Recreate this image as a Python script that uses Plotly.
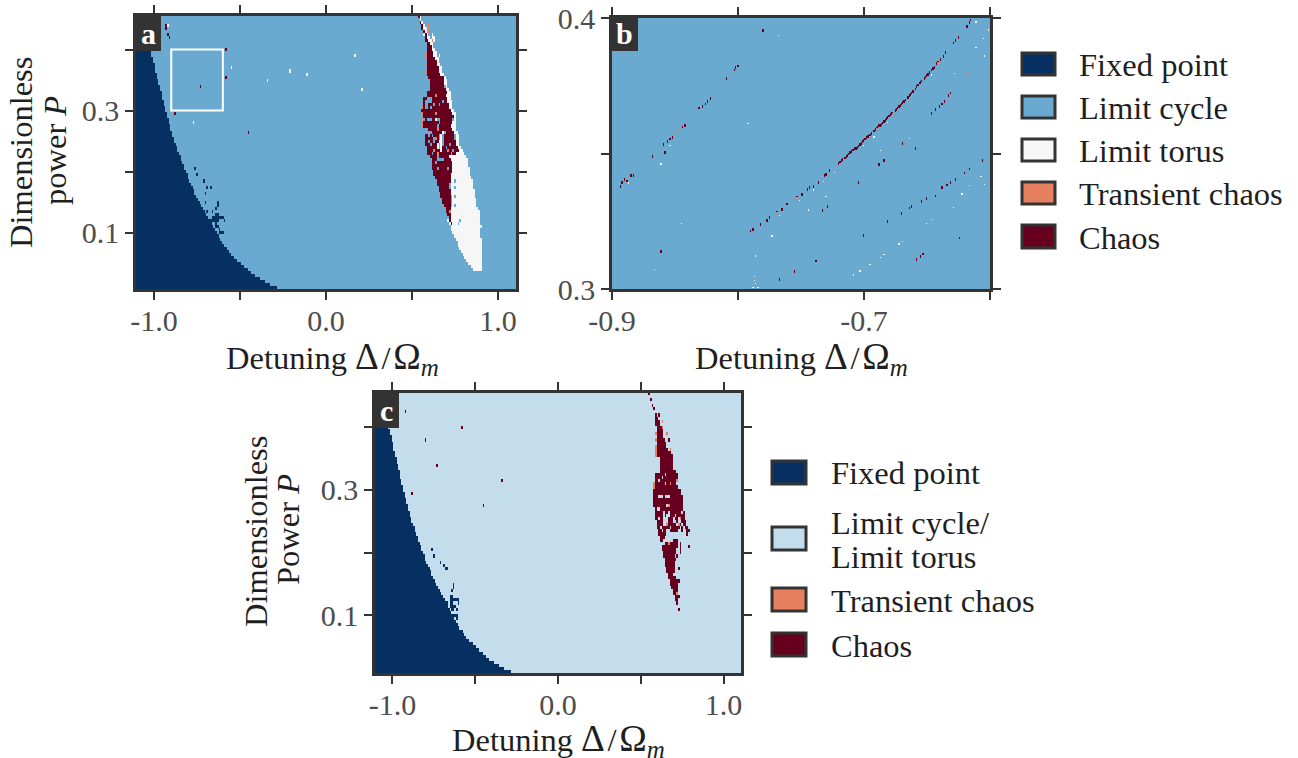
import numpy as np
import plotly.graph_objects as go

W, H = 1298, 758
SERIF = "Liberation Serif"
INK = "#1f1f1f"
TICKTXT = "#4d4d4d"
SPINE = "#333333"

FIXED, CYCLE, TORUS, TRANS, CHAOS = 0, 1, 2, 3, 4
COL_FIXED = "#053061"
COL_CYCLE = "#6BAAD0"
COL_TORUS = "#F6F6F6"
COL_TRANS = "#E6805F"
COL_CHAOS = "#67001F"
COL_MERGED = "#C3DDEC"

# number of fixed-point cells per row, bottom row first (panels a and c)
fixed_edge = [82, 78, 75, 72, 69, 67, 65, 63, 61, 59, 57, 55, 54, 53, 51, 50, 49, 48, 47, 46,
              45, 44, 43, 42, 41, 40, 39, 38, 37, 36, 35, 34, 34, 33, 32, 31, 30, 30, 29, 28,
              28, 27, 26, 26, 25, 24, 24, 23, 22, 22, 21, 21, 20, 20, 19, 19, 18, 18, 17, 17,
              16, 16, 15, 15, 15, 14, 14, 13, 13, 12, 12, 11, 11, 11, 10, 10, 9, 9, 8, 8,
              7, 7, 6, 6, 5, 5, 4, 4, 3, 3]

# chaotic lobe, panel a: top row first, first character is column 160
lobe_a = [
    "....CT", ".....T...O", ".....CT", "......CT..O", "......CTT", ".......CT.O",
    ".......TCT..T", "........CTT.TT", "........CCTTOT", ".........CCTT", ".........CCCT",
    ".........CCCTT", "........OCCCCTT", "........OCCCCTT.T", "........OCCCCCTTO",
    ".........CCCCCCT", "........OCCCCCCTT", ".........CCCCCCCTT", "........OCCCCCCCTT",
    ".........CCCCCCCCTT", "..........CCCCCCCCCT", "...........CCCCCCCCTT", "...........CCCCCCCCTT",
    "...........CCCCCCCC.T", "...........CCCCCCCCCTT", ".........CCCCCCCCCCCCTT",
    ".........CCCCCOCCCCCTTT", ".......CC...CCCCCCCCCTT", ".......C....CCCCCC.CCTTT",
    ".......C..CCC.CC.CCCCCTT", "......OC..C.CCCCCCCCCCTT", "......CCCCCCCCCCCCCCCCCTT",
    "......OCCCCCCCOCCCCCCCCCTT", ".......CCCCCCCCCCCCCCCCCCT", "......O.C...CCT..CCCCCCC.T",
    "......OCCCCCCCCC.CCCCCCCTT", "......OCCCCCCCC.CCCCCCCTTT", "..........CCCCCOCCCCCCCCTT",
    "............CCCCCCT.CCCCCTT", "........CC.C.CCC.T.CCCCCC.TT", "........CCCCC.OC.T.CCCCCC.TT",
    "........CC.CC.CCTT.CCCCCCCTT", "........CCC.CCCT.T.CCC.CCCTT", ".........CCCCCCT.TCC.CCCCCCTT",
    ".........CCCCOCCCTCCCOCC.CCCTT", ".........CCC.CCOCCCCCCC.CCTTTTT", "...........CCCC.CCCCCCTTTTTTTTTT",
    "............CCC....CCCCTTTTTTTTTT", "............CC.CCCCCCCCCTTTTTTTTT", "............CCCCCCCCCCCCTTTTTTTTT",
    "............CCC.CCCCC.CCTTTTTTTTTT", ".............CCCCCCCCCCCTTTTTTTTTT", ".............CCCCCCCCCCTTTTTTTTTTT",
    "..............CCCCCCCCCTTTTTTTTTTTT", "...............CCCCCCCCTT.TTTTTTTTTT", "...............CCCCCCC.TTTTTTTTTTTTT",
    "................CCCCCC.TT.TTTTTTTTTT", "................CCCCCCCTTTTTTTTTTTTTT", ".................CCCCCCTTTTTTTTTTTTTT",
    ".................CCCCCC.T.TTTTTTTTTTT", "..................CCCCC.TTTTTTTTTTTTTT", "..................CCCCC.TTTTTTTTTTTTTT",
    "...................CCCC.T.TTTTTTTTTTTT", "....................CCCTTTTTTTTTTTTTTTT", "....................CCOTTTTTTTTTTTTTTTTT",
    ".....................CCTTTTTTTTTTTTTTTTT", "......................CTTTTTTTTTTTTTTTTT", ".....................TCTTTTT.TTTTTTTTTTT",
    "......................TCTTT.TTTTTTTTTTTT", ".......................TTTTTTTTTTTTTTTTTT", ".......................TTTTTTTTTTTTTTTTT",
    "........................TTTTTTTTTTTTTTTT", ".........................TTTTTTTTTTTTTTT", "..........................TTTTTTTTTTTTTTT",
    "...........................TTTTTTTTTTTTTT", "...........................TTTTTTTTTTTTTT", "............................TTTTTTTTTTTTT",
    ".............................TTTTTTTTTTTT", "..............................TTTTTTTTTTT", "...............................TTTTTTTTTT",
    "................................TTTTTTTTT", ".................................TTTTTTTT", "...................................TTTTTT",
    "....................................TTTTT",
]

# chaotic lobe, panel c: top row first, first character is column 160
lobe_c = [
    ".....C", "", "......C", "", ".......C", "........C", "", ".........C.C", ".........CC",
    ".........CCC.O", ".........CCC", "..........CCCO", "..........CCCC", ".........OCCCC..O",
    "..........CCCC", ".........OCCCCC..C", "..........CCCCCC", ".........OCCCCCC",
    ".........OCCCCCCC.O", ".........OCCCCCCCCC", ".........OCCCCCCCCCC", "............CCCCCCCC",
    "............CCCCCCCC", "............CCCCCCCC", "............CCCCCCCC", "............CCCCCCCCCC",
    ".........CCCCCC.CCCCCCC", ".........CCCC.CCCCCCCCC", ".........CC.CCCCCCCCCCO", "........OCCCCCC.CCOCCC",
    "........OCCCCCCCCCCCCCC", "........CCCCCCCCCCCCCCCCC", "........CCCCCCCCCCCCCCCCC", "........CCC...C...CCCCCCCC",
    "........CCCCCCCCCCCCCCCCCC", "........CCCCCCCCCCCCCCCCCC", "........CCCCCCCC.OCCCCCCCC", ".........C..CCCCCCCCCCCCCC",
    ".........CCCCC.CC.CCCCCCC.C", ".........CCCCC.C..CCC.CCCCC", ".........CC.CC...CCC.CC.OCC", "..........CCCC...CCC..C..CCC",
    "..........CCCC..OCCCCC.OC.CC", "..........CC.CCCCC.CCCCC.C.CC", "...........CC.CC..CCCCC..C..CC", "...........CCCCC............C",
    "............CCC", "............CC......CCC", "...............CCOCCCCC.C", ".............CCCCCCCCCC.C....C",
    ".............CCCCCCCCC..C", "..............CCCCCCCC..C", "..............CCCCCCC.C", "...............CCCCCCC",
    "...............CCCCCC", "...............CCCCCC", "................CCCCC..C", "................CCCCC",
    ".................CCC", ".................CCCCC", "..................CCCCCC", "..................CCCCC",
    "...................CCCC", "....................CCC", "....................CCO", ".....................CCC",
    ".....................CC", "......................C", "", ".......................C",
]

# isolated cells, panel a
a_chaos_x = [-0.932, -0.932, -0.920, -0.909, -0.580, -0.580, -0.731, -0.878, -0.449, -0.700]
a_chaos_y = [0.440, 0.436, 0.427, 0.421, 0.402, 0.357, 0.342, 0.297, 0.267, 0.148]
a_torus_x = [-0.920, -0.548, -0.769, -0.337, -0.209, -0.109, 0.169, 0.209]
a_torus_y = [0.442, 0.372, 0.278, 0.352, 0.367, 0.362, 0.388, 0.337]
a_fixed_x = [-0.760, -0.750, -0.709, -0.688, -0.674, -0.669, -0.700, -0.630, -0.630, -0.640, -0.657, -0.688,
             -0.645, -0.635, -0.630, -0.660, -0.650, -0.640, -0.630, -0.620, -0.610, -0.600,
             -0.665, -0.655, -0.645, -0.635, -0.590, -0.670, -0.640, -0.640, -0.635, -0.625,
             -0.620, -0.610, -0.600]
a_fixed_y = [0.203, 0.197, 0.183, 0.177, 0.173, 0.173, 0.163, 0.148, 0.143, 0.138, 0.133, 0.133,
             0.128, 0.128, 0.128, 0.123, 0.123, 0.123, 0.123, 0.123, 0.123, 0.123,
             0.118, 0.118, 0.118, 0.118, 0.118, 0.118, 0.113, 0.108, 0.108, 0.103,
             0.098, 0.098, 0.098]

# isolated cells, panel c
c_chaos_x = [-0.920, -0.582, -0.800, -0.730, -0.340, -0.879, -0.450]
c_chaos_y = [0.425, 0.4005, 0.380, 0.341, 0.316, 0.296, 0.277]
c_fixed_x = [-0.763, -0.750, -0.710, -0.690, -0.680, -0.670, -0.630, -0.630, -0.640,
             -0.650, -0.640, -0.650, -0.640, -0.630, -0.620, -0.610, -0.600,
             -0.650, -0.640, -0.600, -0.668, -0.650, -0.640, -0.630, -0.620,
             -0.645, -0.630, -0.610, -0.635, -0.625, -0.615, -0.610, -0.610]
c_fixed_y = [0.203, 0.197, 0.183, 0.178, 0.173, 0.173, 0.149, 0.144, 0.138,
             0.128, 0.128, 0.123, 0.123, 0.123, 0.123, 0.123, 0.123,
             0.118, 0.118, 0.118, 0.118, 0.113, 0.113, 0.113, 0.113,
             0.108, 0.108, 0.108, 0.100, 0.100, 0.100, 0.100, 0.095]

# panel b: chaotic cells along the resonance lines
b_main_x = [-0.790, -0.788, -0.782, -0.777, -0.775, -0.769, -0.765, -0.761, -0.753, -0.749, -0.745, -0.743,
            -0.740, -0.736, -0.731, -0.730, -0.727, -0.629, -0.627, -0.625, -0.618, -0.616, -0.615,
            -0.639, -0.637, -0.635]
b_main_y = [0.3208, 0.3216, 0.3235, 0.3250, 0.3260, 0.3282, 0.3290, 0.3308, 0.3333, 0.3346, 0.3363, 0.3370,
            0.3376, 0.3392, 0.3417, 0.3419, 0.3435, 0.3905, 0.3914, 0.3924, 0.3967, 0.3979, 0.3991,
            0.3845, 0.3856, 0.3868]
# the middle of the main line is a nearly unbroken run of cells
b_run_x = [-0.720, -0.719, -0.718, -0.717, -0.715, -0.714, -0.713, -0.712, -0.711, -0.710, -0.709, -0.708,
           -0.707, -0.706, -0.705, -0.704, -0.703, -0.702, -0.701, -0.700, -0.699, -0.698, -0.697, -0.696, -0.695,
           -0.694, -0.692, -0.691, -0.690, -0.689, -0.688, -0.687, -0.686, -0.685, -0.684, -0.683, -0.682,
           -0.681, -0.680, -0.679, -0.678, -0.677, -0.675, -0.674, -0.673, -0.672, -0.671, -0.670, -0.669,
           -0.668, -0.667, -0.665, -0.664, -0.663, -0.662, -0.661, -0.659, -0.658, -0.657, -0.656,
           -0.655, -0.654, -0.652, -0.651, -0.650, -0.649, -0.648, -0.646, -0.645, -0.644, -0.642, -0.641]
b_run_y = [0.3459, 0.3464, 0.3469, 0.3474, 0.3481, 0.3486, 0.3491, 0.3495, 0.3498, 0.3503, 0.3508, 0.3511,
           0.3513, 0.3515, 0.3520, 0.3526, 0.3530, 0.3533, 0.3542, 0.3546, 0.3551, 0.3555, 0.3559, 0.3562, 0.3565,
           0.3570, 0.3580, 0.3585, 0.3589, 0.3594, 0.3598, 0.3602, 0.3606, 0.3611, 0.3616, 0.3621, 0.3626,
           0.3631, 0.3635, 0.3638, 0.3643, 0.3647, 0.3656, 0.3661, 0.3665, 0.3670, 0.3675, 0.3679, 0.3683,
           0.3689, 0.3694, 0.3705, 0.3710, 0.3716, 0.3721, 0.3726, 0.3737, 0.3743, 0.3749, 0.3754,
           0.3759, 0.3764, 0.3776, 0.3780, 0.3784, 0.3788, 0.3796, 0.3807, 0.3811, 0.3815, 0.3829, 0.3835]
b_upper_x = [-0.893, -0.892, -0.890, -0.888, -0.885, -0.883, -0.868, -0.859, -0.858, -0.856, -0.854, -0.852,
             -0.844, -0.842, -0.831, -0.828, -0.826, -0.824, -0.822, -0.809, -0.803, -0.802, -0.800, -0.780]
b_upper_y = [0.3376, 0.3391, 0.3401, 0.3395, 0.3417, 0.3417, 0.3485, 0.3528, 0.3502, 0.3538, 0.3552, 0.3555,
             0.3595, 0.3601, 0.3663, 0.3669, 0.3678, 0.3692, 0.3702, 0.3774, 0.3804, 0.3815, 0.3819, 0.3951]
b_right_x = [-0.646, -0.643, -0.640, -0.638, -0.636, -0.633, -0.631]
b_right_y = [0.3643, 0.3659, 0.3672, 0.3680, 0.3692, 0.3712, 0.3722]
b_lower_x = [-0.670, -0.664, -0.662, -0.654, -0.650, -0.643, -0.638, -0.634, -0.631, -0.627, -0.620, -0.616, -0.606]
b_lower_y = [0.3276, 0.3294, 0.3301, 0.3321, 0.3331, 0.3341, 0.3371, 0.3380, 0.3391, 0.3401, 0.3426, 0.3442, 0.3472]
b_loose_x = [-0.861, -0.738, -0.755, -0.767, -0.700, -0.681, -0.733, -0.729, -0.704, -0.688, -0.684, -0.669,
             -0.659, -0.658, -0.655, -0.653, -0.624]
b_loose_y = [0.3134, 0.3098, 0.3059, 0.3028, 0.3196, 0.3245, 0.3285, 0.3301, 0.3391, 0.3456, 0.3472, 0.3537,
             0.3517, 0.3103, 0.3114, 0.3125, 0.3185]
b_trans_x = [-0.896, -0.862, -0.847, -0.769, -0.753, -0.690, -0.656, -0.641, -0.617, -0.677]
b_trans_y = [0.3380, 0.3518, 0.3583, 0.3282, 0.3333, 0.3589, 0.3754, 0.3835, 0.3791, 0.3647]
b_torus_x = [-0.768, -0.792, -0.861, -0.854, -0.887, -0.845, -0.866, -0.773, -0.786, -0.744, -0.767, -0.751,
             -0.740, -0.732, -0.730, -0.723, -0.708, -0.703, -0.695, -0.687, -0.684, -0.672, -0.669, -0.650,
             -0.646, -0.629, -0.622, -0.616, -0.607, -0.604, -0.687, -0.664, -0.700, -0.692, -0.681, -0.646,
             -0.628, -0.611, -0.605, -0.611, -0.604, -0.601, -0.787, -0.787, -0.788, -0.786, -0.784]
b_torus_y = [0.3936, 0.3608, 0.3461, 0.3530, 0.3391, 0.3240, 0.3069, 0.3196, 0.3118, 0.3292, 0.3269, 0.3325,
             0.3366, 0.3396, 0.3341, 0.3432, 0.3048, 0.3063, 0.3089, 0.3114, 0.3124, 0.3166, 0.3176, 0.3240,
             0.3255, 0.3301, 0.3351, 0.3380, 0.3417, 0.3386, 0.3512, 0.3557, 0.3528, 0.3562, 0.3614, 0.3788,
             0.3797, 0.3985, 0.3926, 0.3889, 0.3859, 0.3954, 0.3044, 0.3028, 0.3007, 0.3020, 0.3005]

legend_a = ["Fixed point", "Limit cycle", "Limit torus", "Transient chaos", "Chaos"]
legend_c = ["Fixed point", ["Limit cycle/", "Limit torus"], "Transient chaos", "Chaos"]
colors_a = [COL_FIXED, COL_CYCLE, COL_TORUS, COL_TRANS, COL_CHAOS]
colors_c = [COL_FIXED, COL_MERGED, COL_TRANS, COL_CHAOS]

# grids of the parameter scan
gx = [round(-1.1 + 0.01 * i, 3) for i in range(221)]
gy = [round(0.01 + 0.005 * j, 4) for j in range(90)]
bx = [round(-0.9 + 0.001 * i, 4) for i in range(301)]
by = [round(0.3 + 0.0005 * j, 5) for j in range(201)]


def base_grid():
    z = np.full((90, 221), CYCLE)
    for row, n in enumerate(fixed_edge):
        z[row, :n] = FIXED
    return z


def put(z, xs, ys, state, x0, y0, dx, dy, thick=1):
    for xv, yv in zip(xs, ys):
        col = int(round((xv - x0) / dx))
        row = int(round((yv - y0) / dy))
        for t in range(thick):
            if 0 <= row + t < z.shape[0] and 0 <= col < z.shape[1]:
                z[row + t, col] = state


def put_lobe(z, rows):
    states = {"C": CHAOS, "O": TRANS, "T": TORUS}
    for r, text in enumerate(rows):
        for k, ch in enumerate(text):
            if ch in states:
                z[89 - r, 160 + k] = states[ch]


za = base_grid()
put(za, a_fixed_x, a_fixed_y, FIXED, -1.1, 0.01, 0.01, 0.005)
put(za, a_torus_x, a_torus_y, TORUS, -1.1, 0.01, 0.01, 0.005)
put(za, a_chaos_x, a_chaos_y, CHAOS, -1.1, 0.01, 0.01, 0.005)
put_lobe(za, lobe_a)

zc = base_grid()
put(zc, c_fixed_x, c_fixed_y, FIXED, -1.1, 0.01, 0.01, 0.005)
put(zc, c_chaos_x, c_chaos_y, CHAOS, -1.1, 0.01, 0.01, 0.005)
put_lobe(zc, lobe_c)

zb = np.full((201, 301), CYCLE)
put(zb, b_torus_x, b_torus_y, TORUS, -0.9, 0.3, 0.001, 0.0005)
for xs, ys in [(b_main_x, b_main_y), (b_run_x, b_run_y), (b_upper_x, b_upper_y), (b_right_x, b_right_y),
               (b_lower_x, b_lower_y), (b_loose_x, b_loose_y)]:
    put(zb, xs, ys, CHAOS, -0.9, 0.3, 0.001, 0.0005, thick=2)
put(zb, b_trans_x, b_trans_y, TRANS, -0.9, 0.3, 0.001, 0.0005)


def scale(cols):
    out = []
    for i, c in enumerate(cols):
        out += [[i / 5, c], [(i + 1) / 5, c]]
    return out


fig = go.Figure()
cs_ab = scale([COL_FIXED, COL_CYCLE, COL_TORUS, COL_TRANS, COL_CHAOS])
cs_c = scale([COL_FIXED, COL_MERGED, COL_MERGED, COL_TRANS, COL_CHAOS])
fig.add_trace(go.Heatmap(x=gx, y=gy, z=za, zmin=-0.5, zmax=4.5, colorscale=cs_ab, showscale=False,
                         xaxis="x", yaxis="y", name="a"))
fig.add_trace(go.Heatmap(x=bx, y=by, z=zb, zmin=-0.5, zmax=4.5, colorscale=cs_ab, showscale=False,
                         xaxis="x2", yaxis="y2", name="b"))
fig.add_trace(go.Heatmap(x=gx, y=gy, z=zc, zmin=-0.5, zmax=4.5, colorscale=cs_c, showscale=False,
                         xaxis="x3", yaxis="y3", name="c"))


def dom(a, b, total, flip=False):
    if flip:
        return [1 - b / total, 1 - a / total]
    return [a / total, b / total]


def axis(dom_range, rng, vals, minor_vals, anchor, standoff=0):
    return dict(domain=dom_range, range=rng, tickmode="array", tickvals=vals,
                ticktext=[format(v, ".1f") for v in vals],
                ticks="outside", ticklen=8, tickwidth=2, tickcolor=SPINE, ticklabelstandoff=standoff,
                minor=dict(tickmode="array", tickvals=minor_vals, ticks="outside", ticklen=8, tickwidth=2,
                           tickcolor=SPINE, showgrid=False),
                showline=True, linecolor=SPINE, linewidth=2.5, mirror="allticks", automargin=False,
                showgrid=False, zeroline=False, anchor=anchor,
                tickfont=dict(family=SERIF, size=30, color=TICKTXT))


fig.update_layout(
    width=W, height=H, margin=dict(l=0, r=0, t=0, b=0), autosize=False,
    paper_bgcolor="white", plot_bgcolor="white", showlegend=False,
    xaxis=axis(dom(136, 516, W), [-1.105, 1.105], [-1, 0, 1], [-0.5, 0.5], "y", -5),
    yaxis=axis(dom(16, 289, H, True), [0.0075, 0.455], [0.1, 0.3], [0.2, 0.4], "x"),
    xaxis2=axis(dom(612, 990, W), [-0.9, -0.6], [-0.9, -0.7], [-0.8, -0.6], "y2", -5),
    yaxis2=axis(dom(18, 289, H, True), [0.3, 0.4], [0.3, 0.4], [0.35], "x2"),
    xaxis3=axis(dom(375, 741, W), [-1.105, 1.105], [-1, 0, 1], [-0.5, 0.5], "y3", -5),
    yaxis3=axis(dom(393, 673, H, True), [0.0075, 0.455], [0.1, 0.3], [0.2, 0.4], "x3"),
)

shapes = []
annots = []


def px_rect(x0, y0, x1, y1, fill, line=None, lw=0):
    shapes.append(dict(type="rect", xref="paper", yref="paper", x0=x0 / W, x1=x1 / W,
                       y0=1 - y1 / H, y1=1 - y0 / H, fillcolor=fill,
                       line=dict(color=line or fill, width=lw), layer="above"))


def px_text(x, y, text, size=32.5, color=INK, xanchor="left", bold=False, angle=0):
    annots.append(dict(xref="paper", yref="paper", x=x / W, y=1 - y / H, text=f"<b>{text}</b>" if bold else text,
                       showarrow=False, xanchor=xanchor, yanchor="middle", align="left", textangle=angle,
                       font=dict(family=SERIF, size=size, color=color)))


# panel letters
for (x0, y0, x1, y1), letter in [((135, 16, 161, 51), "a"), ((611, 17, 638, 51), "b"), ((374, 392.5, 399, 428), "c")]:
    px_rect(x0, y0, x1, y1, SPINE)
    px_text((x0 + x1) / 2, (y0 + y1) / 2, letter, size=30, color="white", xanchor="center", bold=True)

# axis titles
XT = ("Detuning <span style=\"font-size:37px\">Δ</span>\u200a/\u200a<span style=\"font-size:37px\">Ω</span>"
      "<sub><i><span style=\"font-size:25px\">m</span></i></sub>")
px_text(332, 358, XT, xanchor="center")
px_text(801, 358, XT, xanchor="center")
px_text(558, 740, XT, xanchor="center")
px_text(21, 153, "Dimensionless", xanchor="center", angle=-90)
px_text(55, 151, "power <i>P</i>", xanchor="center", angle=-90)
px_text(256, 532, "Dimensionless", xanchor="center", angle=-90)
px_text(288, 530, "Power <i>P</i>", xanchor="center", angle=-90)

# zoom window of panel b shown on panel a
shapes.append(dict(type="rect", xref="x", yref="y", x0=-0.9, x1=-0.6, y0=0.3, y1=0.4,
                   line=dict(color="white", width=2), fillcolor="rgba(0,0,0,0)", layer="above"))

# legends
for (y0, y1), label, colr in zip([(53, 75), (96, 118), (139, 161), (182, 204), (225, 248)], legend_a, colors_a):
    px_rect(1022, y0, 1055, y1, colr, SPINE, 3)
    px_text(1077, (y0 + y1) / 2 + 1, label)
for (y0, y1), label, colr in zip([(461, 484), (527, 550), (588, 611), (633, 656)], legend_c, colors_c):
    px_rect(772, y0, 806, y1, colr, SPINE, 3)
    if isinstance(label, list):
        px_text(829, 523, label[0])
        px_text(829, 557, label[1])
    else:
        px_text(829, (y0 + y1) / 2 + 1, label)

fig.update_layout(shapes=shapes, annotations=annots)
fig.write_html("out.html", config=dict(displayModeBar=False), post_script="document.body.style.margin='0';")
